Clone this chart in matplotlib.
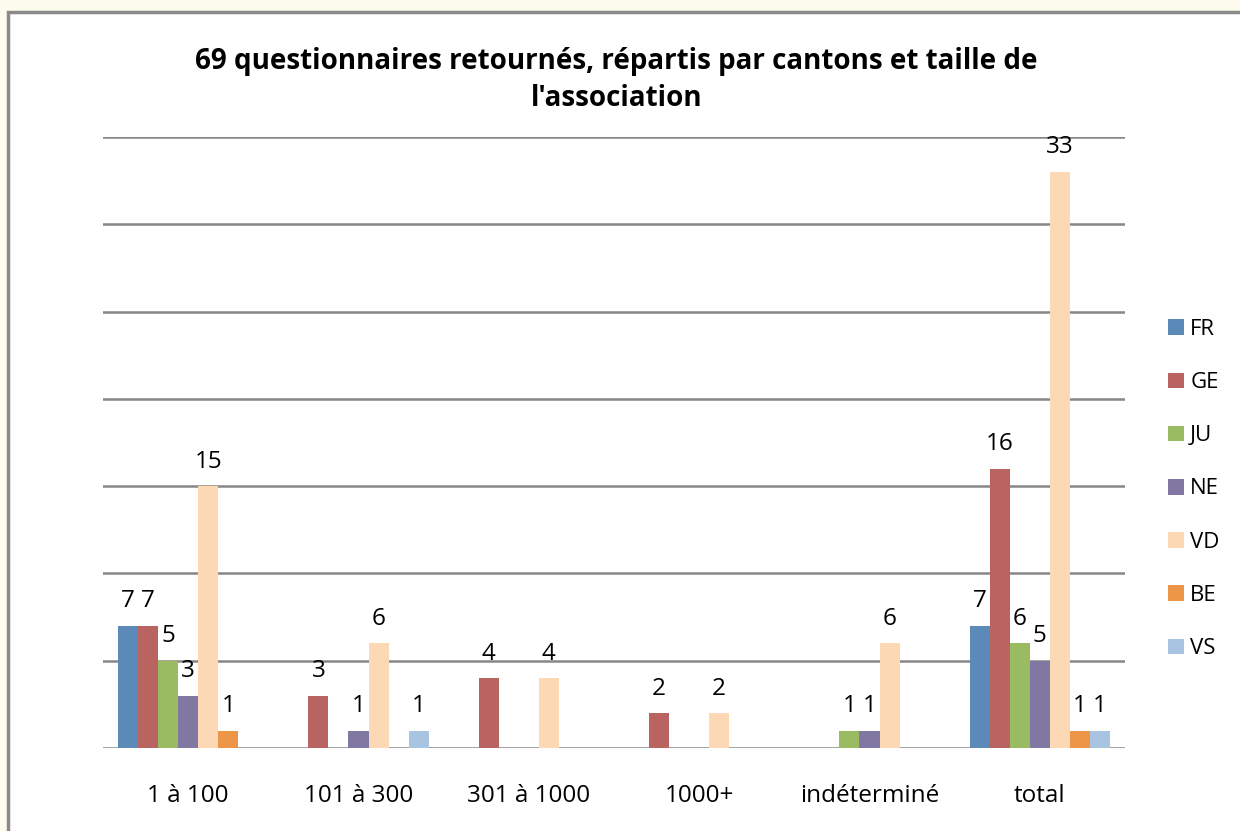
import numpy as np
import matplotlib.pyplot as plt
from matplotlib.patches import Rectangle

plt.rcParams['font.family'] = ['Open Sans', 'DejaVu Sans']

# Données
categories = ['1 à 100', '101 à 300', '301 à 1000', '1000+', 'indéterminé', 'total']
cantons = ['FR', 'GE', 'JU', 'NE', 'VD', 'BE', 'VS']
valeurs = {
    'FR': [7, 0, 0, 0, 0, 7],
    'GE': [7, 3, 4, 2, 0, 16],
    'JU': [5, 0, 0, 0, 1, 6],
    'NE': [3, 1, 0, 0, 1, 5],
    'VD': [15, 6, 4, 2, 6, 33],
    'BE': [1, 0, 0, 0, 0, 1],
    'VS': [0, 1, 0, 0, 0, 1],
}
couleurs = ['#5B8AB9', '#BA6461', '#9BBB62', '#8078A3', '#FDD8B4', '#EE9648', '#A8C4E0']

fig = plt.figure(figsize=(12.4, 8.31), dpi=100)
fig.patch.set_facecolor('#FDFCEE')
fig.patches.append(Rectangle((8 / 1240, -0.1), 1.2, 0.1 + 819 / 831,
                             transform=fig.transFigure, facecolor='white',
                             edgecolor='#8A8A8A', linewidth=2.5, zorder=-5))

ax = fig.add_axes([103 / 1240, 1 - 748 / 831, 1022 / 1240, 611 / 831])
ax.set_facecolor('none')
ax.set_zorder(2)

x = np.arange(len(categories))
w = 20 / 170
for i, (c, col) in enumerate(zip(cantons, couleurs)):
    vals = valeurs[c]
    bars = ax.bar(x - 3 * w + i * w, vals, width=w, color=col, label=c, zorder=3)
    ax.bar_label(bars, labels=[str(v) if v else '' for v in vals],
                 padding=9, fontsize=17.5)

ax.set_xlim(-0.5, len(categories) - 0.5)
ax.set_ylim(0, 35)
ax.set_yticks(np.arange(0, 36, 5))
ax.yaxis.grid(True, color='#878787', linewidth=1.8)
ax.set_axisbelow(True)
ax.tick_params(axis='y', left=False, labelleft=False)
ax.tick_params(axis='x', length=0, pad=26, labelsize=17.5)
ax.set_xticks(x)
ax.set_xticklabels(categories)
for s in ['top', 'right', 'left', 'bottom']:
    ax.spines[s].set_visible(False)

fig.text(0.497, 1 - 80 / 831,
         "69 questionnaires retournés, répartis par cantons et taille de\nl'association",
         ha='center', va='center', fontsize=20, fontweight='bold', linespacing=1.4)

fig.legend(loc='center left', bbox_to_anchor=(1148 / 1240, 1 - 489 / 831),
           frameon=False, fontsize=16, handlelength=0.7, handleheight=0.7,
           handletextpad=0.3, labelspacing=1.45)

fig.savefig('out.png', dpi=100, facecolor=fig.get_facecolor())
